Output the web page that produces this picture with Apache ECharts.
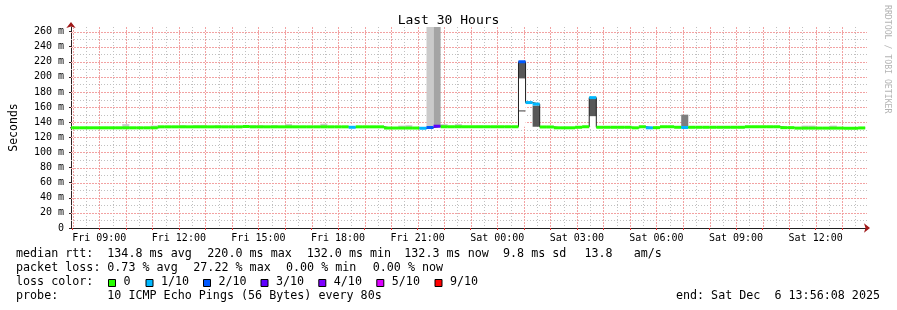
<!DOCTYPE html>
<html><head><meta charset="utf-8">
<script src="https://cdn.jsdelivr.net/npm/echarts@6/dist/echarts.min.js"></script>
<style>html,body{margin:0;padding:0;background:#fff}#c{width:897px;height:310px}</style>
</head><body><div id="c"></div>
<script>
// ---------- data (minutes since Fri 00:00) ----------
const startMin = 476.13;          // Fri 07:56:08
const endMin = 2276.13;           // Sat 13:56:08
const binFirstStart = 464;        // first consolidated bin start
const binMinutes = 16;

// median rtt per bin (ms)
const median = [
  132.6,132.6,132.6,132.6,132.6,132.6,132.6,132.6,132.6,132.6,
  132.6,132.6,132.6,133.9,133.9,133.9,133.9,133.9,133.9,133.9,
  133.9,133.9,133.9,133.9,133.9,134.3,133.9,133.9,133.9,133.9,
  133.9,133.9,133.9,133.9,133.9,133.9,133.9,133.9,133.9,133.9,
  133.3,133.9,133.9,133.9,133.9,132.3,132.3,132.3,132.3,132.3,
  132.0,133.0,134.7,134.0,134.0,134.0,134.0,134.0,134.0,134.0,
  134.0,134.0,134.0,134.0,220.0,166.0,164.0,133.7,133.7,132.6,
  132.6,132.6,133.3,134.0,172.5,133.3,133.3,133.3,133.3,133.3,
  132.6,134.0,132.6,132.8,134.0,134.0,133.3,133.0,133.3,133.3,
  133.3,133.3,133.3,133.3,133.3,133.3,134.0,134.0,134.0,134.0,
  134.0,132.8,132.8,132.2,132.2,132.2,132.2,132.2,132.2,132.2,
  132.0,132.0,132.4
];
// bins with lost pings: [bin, lost of 10]
const lossBins = [[40,1],[50,1],[51,2],[52,3],[64,2],[65,1],[66,1],[74,1],[82,1],[87,1]];

// smoke (ping spread) per shade: [bin, low ms, high ms]
const smokeOuter = [[8,132,137.5],[12,132,135.5],[16,133,136],[18,133,136],[19,133,136],[21,133,136],
  [26,133,136],[27,133,136],[29,133,136],[31,133,137.5],[36,133,138],[47,132,135.5],[48,132,136],
  [51,132,300],[53,134,137.5],[55,134,137.5],[58,134,135.3],[61,134,135],[62,134,135],
  [104,132,135.5],[105,132,135.5],[108,132,135.5]];
const smokeMid = [[52,133,300]];
const smokeInner = [[64,154,156],[87,134,150]];
const smokeCore = [[64,198,220],[66,134,162],[74,148,172]];
const smokeBlank = [[25,129.5,133],[64,134,154],[64,156,198],[74,134,148],[101,129.5,132]];

// axis ticks / grid
const hourTicks = [480,540,600,660,720,780,840,900,960,1020,1080,1140,1200,1260,1320,1380,1440,
  1500,1560,1620,1680,1740,1800,1860,1920,1980,2040,2100,2160,2220];
const halfHourTicks = [510,570,630,690,750,810,870,930,990,1050,1110,1170,1230,1290,1350,1410,1470,
  1530,1590,1650,1710,1770,1830,1890,1950,2010,2070,2130,2190,2250];
const labelTicks = [540,720,900,1080,1260,1440,1620,1800,1980,2160];
const yMajorTicks = [20,40,60,80,100,120,140,160,180,200,220,240,260];
const yMinorTicks = [10,30,50,70,90,110,130,150,170,190,210,230,250];

const legendStats = [
  ['median rtt:', [['134.8 ms avg',107.3],['220.0 ms max',207.3],['132.0 ms min',306.7],['132.3 ms now',404.3],['9.8 ms sd',503],['13.8   am/s',584.5]]],
  ['packet loss:', [['0.73 % avg',107.3],['27.22 % max',193.3],['0.00 % min',286],['0.00 % now',372.7]]]
];
const lossLevels = ['0','1/10','2/10','3/10','4/10','5/10','9/10'];
const lossLevelColors = ['#26ff00','#00b8ff','#0059ff','#5e00ff','#7e00ff','#dd00ff','#ff0000'];

// ---------- chart ----------
const MONO = '"DejaVu Sans Mono", monospace';
const chart = echarts.init(document.getElementById('c'), null, {renderer:'canvas'});

function lossColor(n){
  if (n <= 0) return lossLevelColors[0];
  if (n >= 9) return lossLevelColors[6];
  if (n >= 5) return lossLevelColors[5];
  return lossLevelColors[n];
}
const lossByBin = {};
lossBins.forEach(([b,n]) => lossByBin[b] = n);
const binT0 = i => binFirstStart + i*binMinutes;

function clipRect(params, r){
  const cs = params.coordSys;
  return echarts.graphic.clipRectByRect(r, {x:cs.x, y:cs.y, width:cs.width, height:cs.height});
}
function smokeSeries(list, color, z){
  return {
    type:'custom', z, silent:true, xAxisIndex:0, yAxisIndex:0,
    data: list.map(([b,lo,hi]) => [binT0(b), binT0(b+1), lo, hi]),
    encode:{x:[0,1], y:[2,3]},
    renderItem(params, api){
      const a = api.coord([api.value(0), api.value(3)]);
      const b = api.coord([api.value(1), api.value(2)]);
      const r = clipRect(params, {x:a[0], y:a[1], width:b[0]-a[0], height:b[1]-a[1]});
      if (!r) return;
      return {type:'rect', shape:r, style:{fill:color}};
    }
  };
}
function vGridSeries(ticks, color, dash){
  return {
    type:'custom', z:1, silent:true, data:ticks.map(t => [t, 0]), encode:{x:0, y:1},
    renderItem(params, api){
      const cs = params.coordSys;
      const x = Math.round(api.coord([api.value(0), 0])[0]) + 0.5;
      return {type:'line', shape:{x1:x, y1:cs.y, x2:x, y2:cs.y+cs.height}, style:{stroke:color, fill:null, lineWidth:1, lineDash:dash}};
    }
  };
}
function hGridSeries(ticks, color, dash){
  return {
    type:'custom', z:1, silent:true, data:ticks.map(v => [startMin, v]), encode:{x:0, y:1},
    renderItem(params, api){
      const cs = params.coordSys;
      const y = Math.round(api.coord([startMin, api.value(1)])[1]) + 0.5;
      return {type:'line', shape:{x1:cs.x, y1:y, x2:cs.x+cs.width, y2:y}, style:{stroke:color, fill:null, lineWidth:1, lineDash:dash}};
    }
  };
}

const bandData = median.map((m,i) => [binT0(i), binT0(i+1), m, lossByBin[i] || 0]);
const lineData = median.map((m,i) => [binT0(i), m]);
lineData.push([binT0(median.length), median[median.length-1]]);

function fmtTime(v){
  const day = v >= 1440 ? 'Sat' : 'Fri';
  const h = Math.floor(v/60) % 24;
  return day + ' ' + String(h).padStart(2,'0') + ':00';
}

const graphics = [];
const ROWY = [254, 268, 282, 296];
const FONT = '11.7px ' + MONO;
legendStats.forEach(([head, items], r) => {
  graphics.push({type:'text', x:16, y:ROWY[r], style:{text:head, font:FONT, fill:'#000', verticalAlign:'middle'}});
  items.forEach(([t,x]) => graphics.push({type:'text', x, y:ROWY[r], style:{text:t, font:FONT, fill:'#000', verticalAlign:'middle'}}));
});
graphics.push({type:'text', x:16, y:ROWY[2], style:{text:'loss color:', font:FONT, fill:'#000', verticalAlign:'middle'}});
const boxX = [108.5,146,203.5,261,318.8,376.8,435];
lossLevels.forEach((lab,i) => {
  graphics.push({type:'rect', shape:{x:boxX[i], y:279.5, width:7, height:7}, style:{fill:lossLevelColors[i], stroke:'#000', lineWidth:1}});
  graphics.push({type:'text', x:boxX[i]+15, y:ROWY[2], style:{text:lab, font:FONT, fill:'#000', verticalAlign:'middle'}});
});
graphics.push({type:'text', x:16, y:ROWY[3], style:{text:'probe:', font:FONT, fill:'#000', verticalAlign:'middle'}});
graphics.push({type:'text', x:107.3, y:ROWY[3], style:{text:'10 ICMP Echo Pings (56 Bytes) every 80s', font:FONT, fill:'#000', verticalAlign:'middle'}});
graphics.push({type:'text', x:880, y:ROWY[3], style:{text:'end: Sat Dec  6 13:56:08 2025', font:FONT, fill:'#000', verticalAlign:'middle', align:'right'}});
graphics.push({type:'text', x:887, y:5, rotation:-Math.PI/2, style:{text:'RRDTOOL / TOBI OETIKER', font:'8.2px '+MONO, fill:'#b4b4b4', verticalAlign:'middle', align:'left'}});

const option = {
  animation:false,
  backgroundColor:'#fff',
  title:{text:'Last 30 Hours', left:'center', top:14, padding:0,
    textStyle:{fontFamily:MONO, fontSize:13, fontWeight:'normal', color:'#000'}},
  grid:{left:67, right:30, top:27, bottom:82, containLabel:false},
  xAxis:[
    {type:'value', position:'bottom', min:startMin, max:endMin,
      axisLine:{show:true, onZero:false, lineStyle:{color:'#202020', width:1}},
      axisTick:{show:true, customValues:hourTicks, length:2, lineStyle:{color:'#e03030'}},
      axisLabel:{customValues:labelTicks, formatter:fmtTime, fontFamily:MONO, fontSize:10, color:'#000', margin:5},
      splitLine:{show:false}},
    {type:'value', position:'bottom', min:startMin, max:endMin,
      axisLine:{show:true, onZero:false, symbol:['none','arrow'], symbolSize:[7,6], symbolOffset:[0,3], lineStyle:{color:'#a01818', width:0}},
      axisTick:{show:false}, axisLabel:{show:false}, splitLine:{show:false}}
  ],
  yAxis:[
    {type:'value', position:'left', min:0, max:266, interval:20,
      axisLine:{show:true, onZero:false, lineStyle:{color:'#302020', width:1}},
      axisTick:{show:true, length:2, lineStyle:{color:'#302020'}},
      axisLabel:{formatter:v => v === 0 ? '0' : (v % 20 === 0 && v <= 260 ? v + ' m' : ''),
        showMaxLabel:false, fontFamily:MONO, fontSize:10, color:'#000', margin:7},
      splitLine:{show:false},
      name:'Seconds', nameLocation:'middle', nameGap:51, nameRotate:90,
      nameTextStyle:{fontFamily:MONO, fontSize:11.5, color:'#000'}},
    {type:'value', position:'left', min:0, max:266,
      axisLine:{show:true, onZero:false, symbol:['none','arrow'], symbolSize:[7,6], symbolOffset:[0,5], lineStyle:{color:'#a01818', width:0}},
      axisTick:{show:false}, axisLabel:{show:false}, splitLine:{show:false}}
  ],
  series:[
    vGridSeries(halfHourTicks, '#c0c0c0', [1,2]),
    hGridSeries(yMinorTicks, '#c0c0c0', [1,2]),
    vGridSeries(hourTicks, '#f2a2a2', [2,1]),
    hGridSeries(yMajorTicks, '#f2a2a2', [2,1]),
    smokeSeries(smokeOuter, '#cacaca', 2),
    smokeSeries(smokeMid, '#a4a4a4', 2),
    smokeSeries(smokeBlank, '#ffffff', 2),
    smokeSeries(smokeInner, '#7e7e7e', 3),
    smokeSeries(smokeCore, '#585858', 3),
    {type:'line', z:4, step:'end', data:lineData, symbol:'none', silent:true,
      lineStyle:{color:'#202020', width:1}, xAxisIndex:0, yAxisIndex:0},
    {type:'custom', z:5, silent:true, data:bandData, encode:{x:[0,1], y:[2,2]},
      renderItem(params, api){
        const a = api.coord([api.value(0), api.value(2)]);
        const b = api.coord([api.value(1), api.value(2)]);
        const r = clipRect(params, {x:a[0], y:a[1]-1.5, width:b[0]-a[0], height:3});
        if (!r) return;
        return {type:'rect', shape:r, style:{fill:lossColor(api.value(3))}};
      }}
  ],
  graphic:graphics
};
chart.setOption(option);
</script></body></html>
